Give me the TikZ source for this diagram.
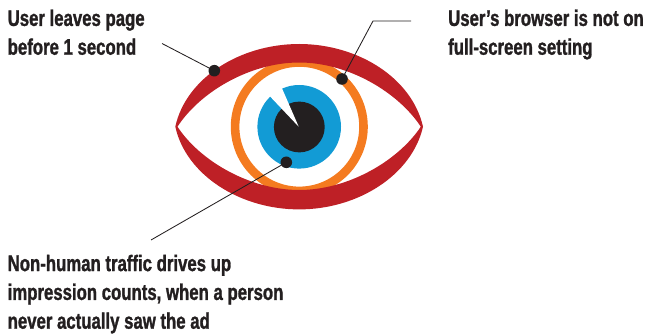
\documentclass[tikz,border=0pt]{standalone}
\usepackage{fontspec}
\setmainfont{Liberation Sans}[FakeStretch=0.745,FakeBold=1.2]
\definecolor{lid}{HTML}{BE2026}
\definecolor{ring}{HTML}{F47B20}
\definecolor{iris}{HTML}{129BD5}
\definecolor{ink}{HTML}{231F20}
\tikzset{
  label text/.style={anchor=north west,align=left,inner sep=0pt,text=ink,font=\fontsize{22.5}{28.8}\selectfont\bfseries},
  dot/.style={circle,fill=ink,inner sep=0pt,minimum size=11.6pt},
  leader/.style={draw=ink,line width=0.85pt}
}
\begin{document}
\begin{tikzpicture}[x=1pt,y=-1pt]
\useasboundingbox (0,0) rectangle (646,334);
% orange ring
\draw[ring,line width=8.6pt] (299.3,126.7) circle (64.2);
% iris
\fill[iris] (299.2,126.8) circle (41.8);
% pupil
\fill[ink] (299.3,127) circle (25.4);
% wedge
\fill[white] (298.7,126.7) -- (282.3,89) -- (279,81) -- (262,90) -- (270.3,96.7) -- cycle;
% lids
\fill[lid,even odd rule]
  (175.3,126.7) .. controls (186,78) and (240,44) .. (299.2,44)
  .. controls (358,44) and (412,78) .. (423,126.7)
  .. controls (412,175) and (358,209.4) .. (299.2,209.4)
  .. controls (240,209.4) and (186,175) .. (175.3,126.7) -- cycle
  (177.5,126.7) .. controls (200,92) and (250,62.5) .. (299.2,62.5)
  .. controls (348,62.5) and (398,92) .. (420.8,126.7)
  .. controls (398,161) and (348,190) .. (299.2,190)
  .. controls (250,190) and (200,161) .. (177.5,126.7) -- cycle;
% dots
\node[dot] (d1) at (214.3,70.7) {};
\node[dot] (d2) at (342,79) {};
\node[dot] (d3) at (286.3,162.3) {};
\coordinate (e1) at (162,43.5);
\coordinate (e2) at (373,21);
\coordinate (e2b) at (411,21);
\coordinate (e3) at (151,240);
\draw[leader] (e1) -- (d1.center);
\draw[leader] (e2b) -- (e2) -- (d2.center);
\draw[leader] (e3) -- (d3.center);
% labels
\node[label text] (t1) at (7.5,9.4) {User leaves page\\before 1 second};
\node[label text] (t2) at (448,9.4) {User’s browser is not on\\full-screen setting};
\node[label text] (t3) at (7.5,254.6) {Non-human traffic drives up\\impression counts, when a person\\never actually saw the ad};
\end{tikzpicture}
\end{document}
